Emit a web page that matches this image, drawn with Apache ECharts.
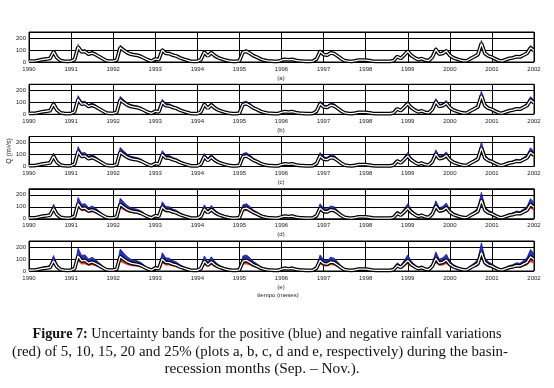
<!DOCTYPE html>
<html>
<head>
<meta charset="utf-8">
<script src="https://cdn.jsdelivr.net/npm/echarts@6/dist/echarts.min.js"></script>
<style>
  html, body { margin: 0; padding: 0; background: #fff; }
  #chart { width: 554px; height: 388px; }
</style>
</head>
<body>
<div id="chart"></div>
<script>
// años del eje x (una marca por enero)
const years = [1990, 1991, 1992, 1993, 1994, 1995, 1996, 1997, 1998, 1999, 2000, 2001, 2002];

// caudal simulado mensual (m3/s), ene 1990 .. ene 2002
const q1990 = [8, 8, 10, 15, 22, 25, 30, 85, 35, 12, 8, 6];
const q1991 = [8, 20, 125, 85, 88, 65, 75, 62, 45, 28, 12, 8];
const q1992 = [8, 15, 120, 98, 78, 65, 60, 55, 45, 30, 15, 8];
const q1993 = [25, 20, 100, 72, 70, 57, 50, 35, 25, 15, 8, 5];
const q1994 = [5, 20, 82, 50, 78, 52, 35, 25, 15, 10, 6, 5];
const q1995 = [10, 82, 88, 72, 52, 40, 25, 15, 10, 8, 6, 5];
const q1996 = [15, 22, 18, 22, 14, 10, 8, 6, 5, 8, 25, 88];
const q1997 = [62, 57, 75, 70, 50, 28, 12, 8, 6, 10, 15, 15];
const q1998 = [15, 12, 8, 6, 5, 5, 5, 5, 12, 45, 30, 58];
const q1999 = [88, 55, 35, 20, 28, 15, 12, 40, 105, 65, 72, 92];
const q2000 = [55, 35, 25, 15, 10, 12, 30, 45, 62, 155, 72, 50];
const q2001 = [40, 25, 12, 10, 20, 30, 35, 45, 42, 57, 72, 118];
const q2002 = [95];

const upShare = [0.16, 0.24, 0.32, 0.42, 0.52];
const downShare = [0.08, 0.13, 0.19, 0.27, 0.36];
const plotTags = ['(a)', '(b)', '(c)', '(d)', '(e)'];

const base = [].concat(q1990, q1991, q1992, q1993, q1994, q1995, q1996,
  q1997, q1998, q1999, q2000, q2001, q2002);

// etiquetas de categoria mes a mes
const months = [];
years.forEach((y, k) => {
  const n = k === years.length - 1 ? 1 : 12;
  for (let m = 1; m <= n; m++) months.push(y + '-' + (m < 10 ? '0' + m : m));
});

const chart = echarts.init(document.getElementById('chart'));

const grids = [], xAxes = [], yAxes = [], series = [], tags = [];
const lbl = { fontFamily: 'Liberation Sans', fontSize: 6, color: '#222' };

plotTags.forEach((tag, i) => {
  const top = 32 + i * 52.25;
  grids.push({
    left: 29, width: 505, top: top, height: 30,
    show: true, borderColor: '#000', borderWidth: 1
  });
  xAxes.push({
    gridIndex: i, type: 'category', data: months, boundaryGap: false,
    axisLine: { show: false }, axisTick: { show: false },
    axisLabel: Object.assign({
      margin: 4, interval: (idx) => idx % 12 === 0,
      formatter: (v) => v.slice(0, 4), showMaxLabel: true
    }, lbl),
    splitLine: { show: true, interval: (idx) => idx % 12 === 0,
      lineStyle: { color: '#000', width: 1 } }
  });
  yAxes.push({
    gridIndex: i, type: 'value', min: 0, max: 250, interval: 100,
    axisLine: { show: false }, axisTick: { show: false },
    axisLabel: Object.assign({ margin: 3, showMaxLabel: false }, lbl),
    splitLine: { show: true, lineStyle: { color: '#000', width: 1 } }
  });

  const lower = base.map(v => v * (1 - downShare[i]));
  const red = base.map(v => v * downShare[i]);
  const blue = base.map(v => v * upShare[i]);
  const common = { type: 'line', xAxisIndex: i, yAxisIndex: i, symbol: 'none', silent: true };
  series.push(Object.assign({ stack: 's' + i, data: lower, lineStyle: { width: 0 } }, common));
  series.push(Object.assign({ stack: 's' + i, data: red, lineStyle: { width: 0 },
    areaStyle: { color: '#e23a1c', opacity: 1 } }, common));
  series.push(Object.assign({ stack: 's' + i, data: blue, lineStyle: { width: 0.8, color: '#14148a' },
    areaStyle: { color: '#2233cc', opacity: 1 } }, common));
  series.push(Object.assign({ data: base, lineStyle: { color: '#000', width: 3.8 } }, common));
  series.push(Object.assign({ data: base, lineStyle: { color: '#fff', width: 1.3 } }, common));

  tags.push({
    type: 'text', x: 281, y: top + 43,
    style: { text: tag, font: '6px "Liberation Sans"', fill: '#222', textAlign: 'center' }
  });
});

const capFont = '14.2px "Liberation Serif"';

chart.setOption({
  animation: false,
  grid: grids,
  xAxis: xAxes,
  yAxis: yAxes,
  series: series,
  graphic: tags.concat([
    { type: 'text', x: 278, y: 292,
      style: { text: 'tiempo (meses)', font: '6px "Liberation Sans"', fill: '#222', textAlign: 'center' } },
    { type: 'text', x: 9, y: 151, rotation: Math.PI / 2,
      style: { text: 'Q (m\u00b3/s)', font: '7px "Liberation Sans"', fill: '#222',
        textAlign: 'center', textVerticalAlign: 'middle' } },
    { type: 'text', x: 267, y: 327,
      style: {
        text: '{b|Figure 7:} Uncertainty bands for the positive (blue) and negative rainfall variations',
        font: capFont, fill: '#111', textAlign: 'center',
        rich: { b: { fontWeight: 'bold', fontFamily: 'Liberation Serif', fontSize: 14.2, fill: '#111' } }
      } },
    { type: 'text', x: 260, y: 345, scaleX: 1.05,
      style: { text: '(red) of 5, 10, 15, 20 and 25% (plots a, b, c, d and e, respectively) during the basin-',
        font: capFont, fill: '#111', textAlign: 'center' } },
    { type: 'text', x: 262, y: 362, scaleX: 1.08,
      style: { text: 'recession months (Sep. \u2013 Nov.).',
        font: capFont, fill: '#111', textAlign: 'center' } }
  ])
});
</script>
</body>
</html>
